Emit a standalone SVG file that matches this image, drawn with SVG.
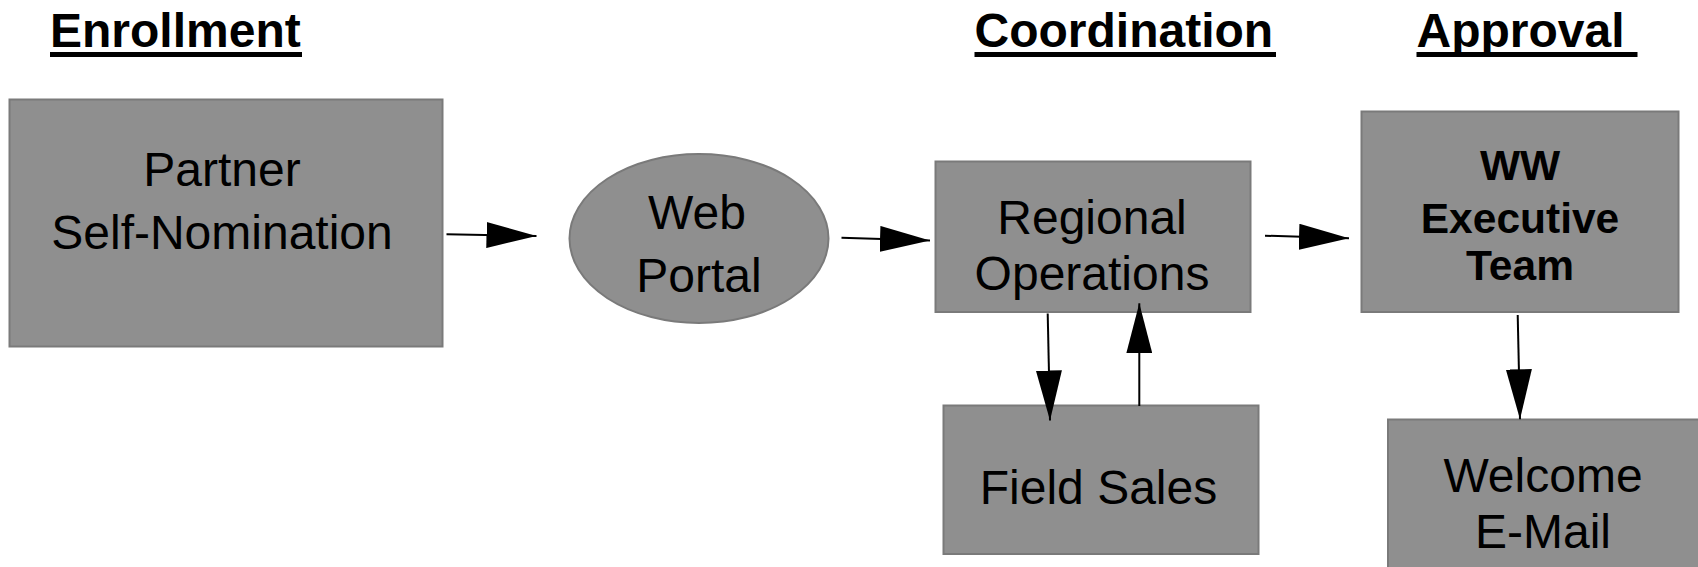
<svg xmlns="http://www.w3.org/2000/svg" width="1698" height="567" viewBox="0 0 1698 567">
  <style>
    .box { fill: #8f8f8f; stroke: #7a7a7a; stroke-width: 2; }
    .label { font-family: "Liberation Sans", Arial, sans-serif; font-size: 48px; fill: #000; text-anchor: middle; }
    .bold { font-weight: bold; font-size: 42.5px; }
    .title { font-family: "Liberation Sans", Arial, sans-serif; font-size: 48px; font-weight: bold; fill: #000; }
    .rule { fill: #000; }
    .edge { stroke: #000; stroke-width: 2; fill: none; marker-end: url(#head); }
  </style>
  <defs>
    <marker id="head" markerUnits="userSpaceOnUse" markerWidth="50" markerHeight="26" refX="50" refY="13" orient="auto" viewBox="0 0 50 26">
      <path d="M0,0 L50,13 L0,26 Z" fill="#000"/>
    </marker>
  </defs>

  <rect width="1698" height="567" fill="#fff"/>

  <!-- phase headings -->
  <g id="headings">
    <text class="title" x="50" y="46.5">Enrollment</text>
    <rect class="rule" x="50" y="52" width="252" height="5"/>
    <text class="title" x="974.5" y="46.5">Coordination</text>
    <rect class="rule" x="974.5" y="52" width="301.5" height="5"/>
    <text class="title" x="1416.5" y="46.5">Approval </text>
    <rect class="rule" x="1416.5" y="52" width="221" height="5"/>
  </g>

  <g id="partner">
    <rect class="box" x="9.5" y="99.5" width="433" height="247"/>
    <text class="label" x="222" y="186">Partner</text>
    <text class="label" x="222" y="248.5">Self-Nomination</text>
  </g>

  <g id="web-portal">
    <ellipse class="box" cx="699" cy="238.5" rx="129.5" ry="84.5"/>
    <text class="label" x="697" y="228.5">Web</text>
    <text class="label" x="699" y="291.5">Portal</text>
  </g>

  <g id="regional-ops">
    <rect class="box" x="935.5" y="161.5" width="315" height="150.5"/>
    <text class="label" x="1092" y="233.5">Regional</text>
    <text class="label" x="1092" y="290">Operations</text>
  </g>

  <g id="field-sales">
    <rect class="box" x="943.5" y="405.5" width="315" height="148.5"/>
    <text class="label" x="1098.5" y="503.5">Field Sales</text>
  </g>

  <g id="exec-team">
    <rect class="box" x="1361.5" y="111.5" width="317" height="200.5"/>
    <text class="label bold" x="1520" y="180">WW</text>
    <text class="label bold" x="1520" y="233">Executive</text>
    <text class="label bold" x="1520" y="280">Team</text>
  </g>

  <g id="welcome-mail">
    <rect class="box" x="1388" y="419.5" width="330" height="170"/>
    <text class="label" x="1543" y="491.5">Welcome</text>
    <text class="label" x="1543" y="548">E-Mail</text>
  </g>

  <!-- connectors -->
  <g id="connectors">
    <line class="edge" x1="446.5" y1="234.3" x2="536.5" y2="236"/>
    <line class="edge" x1="841.5" y1="237.7" x2="930" y2="240.5"/>
    <line class="edge" x1="1265" y1="235.7" x2="1349" y2="238.3"/>
    <line class="edge" x1="1047.7" y1="313.5" x2="1050" y2="420.5"/>
    <line class="edge" x1="1139.3" y1="406" x2="1139.3" y2="303.3"/>
    <line class="edge" x1="1517.7" y1="315" x2="1520" y2="419.3"/>
  </g>
</svg>
